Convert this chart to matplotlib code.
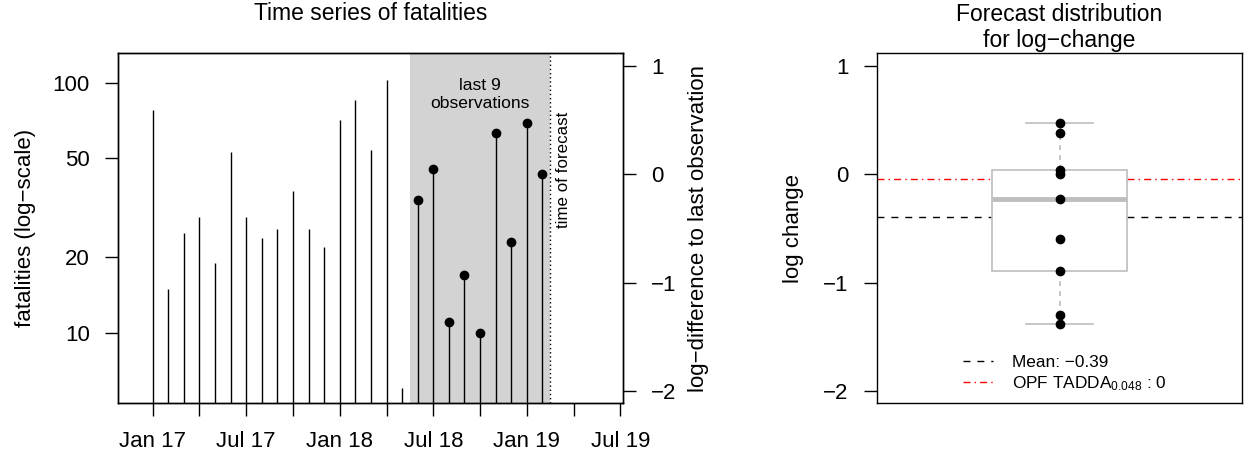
import numpy as np
import matplotlib
matplotlib.use("Agg")
import matplotlib.pyplot as plt
from matplotlib.lines import Line2D

# monthly fatalities, Jan 2017 .. Feb 2019
fatalities = [78, 15, 25, 29, 19, 53, 29, 24, 26, 37, 26, 22, 71,
              85, 54, 103, 6, 34, 45, 11, 17, 10, 63, 23, 69, 43]
tick_months = [0, 3, 6, 9, 12, 15, 18, 21, 24, 27, 30]
tick_labels = ["Jan 17", "", "Jul 17", "", "Jan 18", "", "Jul 18", "",
               "Jan 19", "", "Jul 19"]
left_yticks = [10, 20, 50, 100]
right_yticks = [-2, -1, 0, 1]

# log changes used for the forecast distribution (last 9 observations)
log_changes = [-0.23, 0.04, -1.30, -0.89, -1.38, 0.38, -0.60, 0.47, 0.0]
mean_change = -0.39
opf_line = -0.045
n_last = 9

plt.rcParams['font.family'] = ['Liberation Sans', 'DejaVu Sans']
plt.rcParams['font.size'] = 16
plt.rcParams['mathtext.fontset'] = 'custom'
plt.rcParams['mathtext.rm'] = 'Liberation Sans'
plt.rcParams['mathtext.it'] = 'Liberation Sans:italic'
plt.rcParams['axes.linewidth'] = 1.0

W, H = 1251, 461
fig = plt.figure(figsize=(W / 100, H / 100), dpi=100)


def box(x0, y0, x1, y1):
    return [x0 / W, 1 - y1 / H, (x1 - x0) / W, (y1 - y0) / H]


tick_kw = dict(direction='out', length=9.4, width=1.0, pad=11, labelsize=16)

# ---- left panel: time series ----
ax1 = fig.add_axes(box(118, 53, 623, 403))
x = np.arange(len(fatalities))
ylo, yhi = 5.234, 131.5
ax1.set_yscale('log')
ax1.set_ylim(ylo, yhi)
ax1.set_xlim(-2.226, 30.17)
ax1.axvspan(16.5, 25.5, color='#D3D3D3', lw=0, zorder=0)
ax1.vlines(x, 1, fatalities, color='black', lw=1.0, zorder=2)
ax1.plot(x[-n_last:], fatalities[-n_last:], 'o', color='black', ms=6, zorder=3)
ax1.axvline(25.5, color='black', ls=(0, (1, 2)), lw=1.0, zorder=2)
ax1.text(21, 90, "last 9\nobservations", ha='center', va='center',
         fontsize=12.6, linespacing=1.25)
ax1.text(26.35, 45, "time of forecast", rotation=90, ha='center',
         va='center', fontsize=12.2)

ax1.set_xticks(tick_months)
ax1.set_xticklabels(tick_labels)
ax1.yaxis.set_major_locator(matplotlib.ticker.FixedLocator(left_yticks))
ax1.yaxis.set_minor_locator(matplotlib.ticker.NullLocator())
ax1.set_yticklabels([str(v) for v in left_yticks])
ax1.tick_params(**tick_kw)
ax1.set_ylabel("fatalities (log\u2212scale)", labelpad=12)

ax1r = ax1.twinx()
last = fatalities[-1]
ax1r.set_ylim(np.log(ylo / last), np.log(yhi / last))
ax1r.set_yticks(right_yticks)
ax1r.set_yticklabels([str(v).replace('-', '\u2212') for v in right_yticks])
ax1r.tick_params(**tick_kw)
ax1r.set_ylabel("log\u2212difference to last observation", labelpad=8)

fig.text(370.5 / W, 1 - 20 / H, "Time series of fatalities", ha='center',
         va='baseline', fontsize=16.5)

# ---- right panel: forecast distribution ----
ax2 = fig.add_axes(box(877, 53, 1242, 403))
ax2.set_xlim(0.5, 1.5)
ax2.set_ylim(np.log(ylo / last), np.log(yhi / last))
grey = '#BEBEBE'
ax2.axhline(mean_change, color='black', ls=(0, (5, 5)), lw=1.0, zorder=1)
ax2.axhline(opf_line, color='red', ls=(0, (5, 3, 1, 3)), lw=1.0, zorder=1)
ax2.boxplot(log_changes, positions=[1], widths=0.3726, whis=1.5,
            patch_artist=True, showfliers=False, capwidths=0.1863,
            boxprops=dict(facecolor='white', edgecolor=grey, lw=1.2),
            medianprops=dict(color=grey, lw=3.5),
            whiskerprops=dict(color=grey, ls=(0, (3, 3)), lw=1.2),
            capprops=dict(color=grey, lw=1.2), zorder=3)
ax2.plot([1] * len(log_changes), log_changes, 'o', color='black', ms=6,
         zorder=5)
ax2.set_xticks([])
ax2.set_yticks(right_yticks)
ax2.set_yticklabels([str(v).replace('-', '\u2212') for v in right_yticks])
ax2.tick_params(**tick_kw)
ax2.set_ylabel("log change", labelpad=14)

handles = [Line2D([], [], color='black', ls=(0, (5, 5)), lw=1.0),
           Line2D([], [], color='red', ls=(0, (5, 3, 1, 3)), lw=1.0)]
labels = ["Mean: \u22120.39", "OPF TADDA$_{0.048}$ : 0"]
ax2.legend(handles, labels, loc='lower center', bbox_to_anchor=(0.514, 0.0),
           frameon=False, fontsize=12.4, handlelength=1.75,
           handletextpad=1.1, labelspacing=0.25, borderaxespad=0.2)

fig.text(1059.5 / W, 1 - 21 / H, "Forecast distribution", ha='center',
         va='baseline', fontsize=16.5)
fig.text(1059.5 / W, 1 - 46.5 / H, "for log\u2212change", ha='center',
         va='baseline', fontsize=16.5)

fig.savefig("out.png", dpi=100)
